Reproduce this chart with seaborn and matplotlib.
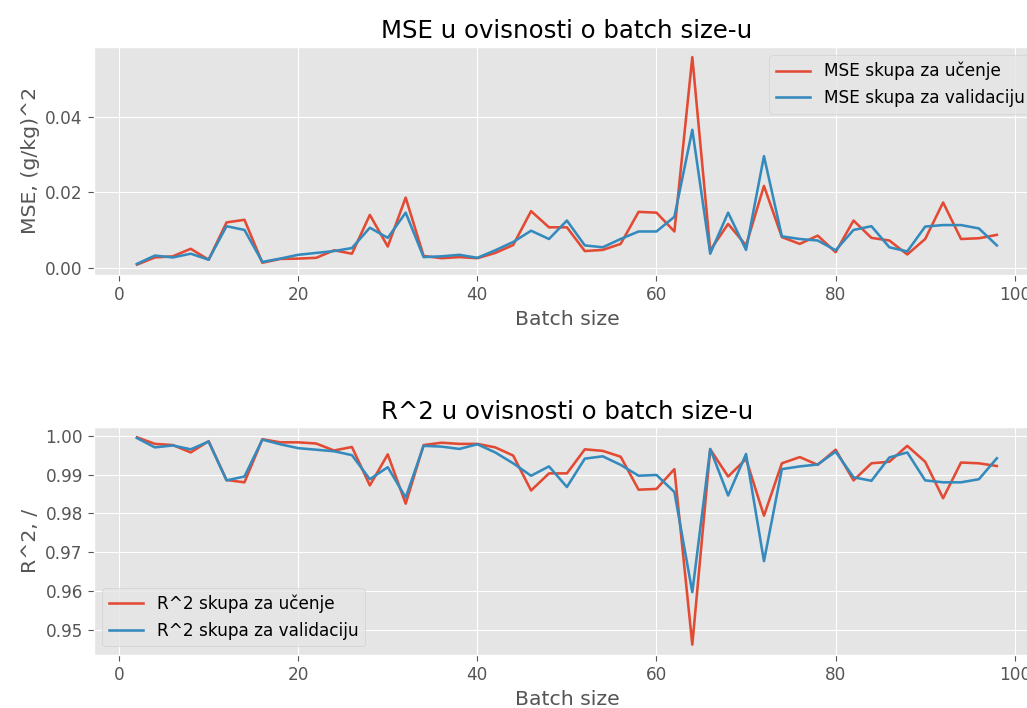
import numpy as np
import pandas as pd
import matplotlib
matplotlib.use("Agg")
import matplotlib.pyplot as plt
import seaborn as sns

# batch sizes 2..98
batch_size = list(range(2, 100, 2))

mse_train = [0.0008, 0.0027, 0.0030, 0.0050, 0.0021, 0.0120, 0.0127, 0.0013, 0.0023, 0.0024,
             0.0026, 0.0046, 0.0037, 0.0140, 0.0056, 0.0186, 0.0031, 0.0025, 0.0028, 0.0025,
             0.0039, 0.0060, 0.0150, 0.0107, 0.0107, 0.0044, 0.0047, 0.0063, 0.0148, 0.0146,
             0.0096, 0.0559, 0.0046, 0.0116, 0.0059, 0.0217, 0.0081, 0.0063, 0.0085, 0.0041,
             0.0125, 0.0079, 0.0072, 0.0035, 0.0076, 0.0173, 0.0076, 0.0078, 0.0087]
mse_val = [0.0010, 0.0032, 0.0027, 0.0037, 0.0021, 0.0110, 0.0100, 0.0015, 0.0024, 0.0034,
           0.0039, 0.0044, 0.0052, 0.0106, 0.0079, 0.0146, 0.0028, 0.0030, 0.0034, 0.0026,
           0.0046, 0.0068, 0.0098, 0.0076, 0.0125, 0.0059, 0.0054, 0.0076, 0.0096, 0.0096,
           0.0135, 0.0366, 0.0037, 0.0146, 0.0047, 0.0296, 0.0083, 0.0076, 0.0072, 0.0046,
           0.0100, 0.0110, 0.0054, 0.0043, 0.0109, 0.0113, 0.0113, 0.0104, 0.0059]

r2_train = [0.9996, 0.9979, 0.9976, 0.9957, 0.9986, 0.9886, 0.9880, 0.9991, 0.9983, 0.9983,
            0.9980, 0.9962, 0.9971, 0.9872, 0.9952, 0.9825, 0.9976, 0.9982, 0.9979, 0.9979,
            0.9970, 0.9949, 0.9859, 0.9903, 0.9903, 0.9965, 0.9961, 0.9946, 0.9861, 0.9863,
            0.9914, 0.9462, 0.9965, 0.9895, 0.9940, 0.9794, 0.9929, 0.9945, 0.9925, 0.9964,
            0.9885, 0.9929, 0.9933, 0.9974, 0.9933, 0.9839, 0.9931, 0.9929, 0.9922]
r2_val = [0.9994, 0.9970, 0.9975, 0.9965, 0.9985, 0.9885, 0.9895, 0.9990, 0.9978, 0.9968,
          0.9964, 0.9960, 0.9950, 0.9888, 0.9919, 0.9841, 0.9974, 0.9972, 0.9966, 0.9978,
          0.9957, 0.9929, 0.9897, 0.9921, 0.9868, 0.9941, 0.9947, 0.9925, 0.9897, 0.9899,
          0.9855, 0.9597, 0.9966, 0.9846, 0.9953, 0.9677, 0.9914, 0.9921, 0.9926, 0.9959,
          0.9893, 0.9884, 0.9944, 0.9957, 0.9885, 0.9880, 0.9880, 0.9888, 0.9942]

plt.style.use("ggplot")
# original was rendered a bit larger than default
plt.rcParams["font.size"] = 12.2
plt.rcParams["lines.linewidth"] = 1.85
plt.rcParams["xtick.major.size"] = 4.5
plt.rcParams["ytick.major.size"] = 4.5

fig = plt.figure(figsize=(10.27, 7.08), dpi=100)
ax1 = fig.add_axes([0.0915, 0.6116, 0.921, 0.3224])
ax2 = fig.add_axes([0.0915, 0.0749, 0.921, 0.3221])

# MSE
sns.lineplot(x=batch_size, y=mse_train, ax=ax1, label="MSE skupa za učenje", color="#E24A33")
sns.lineplot(x=batch_size, y=mse_val, ax=ax1, label="MSE skupa za validaciju", color="#348ABD")
ax1.set_title("MSE u ovisnosti o batch size-u")
ax1.set_xlabel("Batch size")
ax1.set_ylabel("MSE, (g/kg)^2")
ax1.set_yticks([0.0, 0.02, 0.04])
ax1.legend(loc="upper right")

# R^2
sns.lineplot(x=batch_size, y=r2_train, ax=ax2, label="R^2 skupa za učenje", color="#E24A33")
sns.lineplot(x=batch_size, y=r2_val, ax=ax2, label="R^2 skupa za validaciju", color="#348ABD")
ax2.set_title("R^2 u ovisnosti o batch size-u")
ax2.set_xlabel("Batch size")
ax2.set_ylabel("R^2, /")
ax2.legend(loc="lower left")

for ax in (ax1, ax2):
    ax.set_xticks([0, 20, 40, 60, 80, 100])

fig.savefig("out.png", dpi=100)
